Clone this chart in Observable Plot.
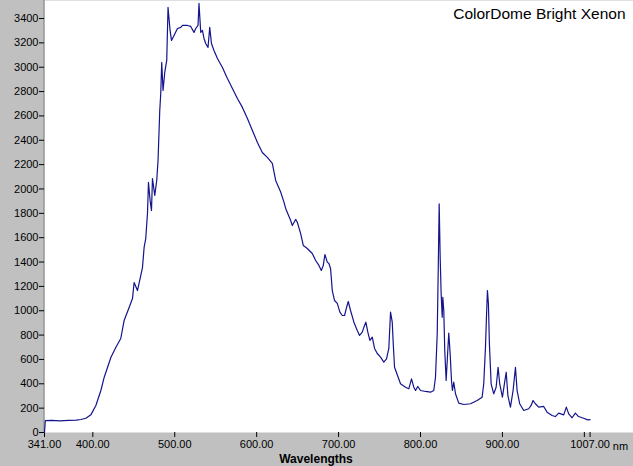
<!DOCTYPE html>
<html>
<head>
<meta charset="utf-8">
<script src="https://cdn.jsdelivr.net/npm/d3@7"></script>
<script src="https://cdn.jsdelivr.net/npm/@observablehq/plot@0.6"></script>
<style>
  html, body { margin: 0; padding: 0; background: #c0c0c0; }
  #chart svg { display: block; }
</style>
</head>
<body>
<div id="chart"></div>
<script>
const title = "ColorDome Bright Xenon";
const xLabel = "Wavelengths";
const xUnit = "nm";

const wavelengths = [
  341, 342, 350, 360, 370, 380, 385.4, 391.5, 397.6, 403.7, 409.8, 413.8, 417.9, 422, 428, 434.1,
  438.2, 444.3, 448.4, 450.4, 454.5, 460.6, 462.6, 464.6, 466.7, 467.9, 469.9, 471.6, 472.8, 475.6,
  478, 479.6, 481.7, 482.9, 484.1, 485.7, 487.8, 490.2, 491.8, 494.3, 496, 499.1, 503.3, 507.3,
  509.4, 515.5, 519.5, 523.5, 525.6, 528.4, 529.6, 531.7, 533.8, 535.7, 537.8, 540.6, 542.7, 544.8,
  547.9, 552.1, 558.2, 564.3, 570.4, 576.5, 582.6, 588.7, 594.8, 600.9, 606.9, 613, 619.1, 623.2,
  629.3, 633.3, 635.4, 641.5, 643.5, 647.6, 649.6, 653.7, 656.9, 661.8, 667.9, 672, 676, 678.9,
  681.3, 683.3, 686.2, 688.2, 690.2, 692.3, 695.1, 698.4, 701.6, 704.5, 707.3, 709.8, 711.8, 714.6,
  718.7, 722.8, 725.6, 728.9, 730.9, 733.3, 735.7, 738.2, 741.1, 743.9, 747.2, 751.2, 755.2, 758.5,
  761.3, 763.4, 765.5, 766.7, 768.3, 775.6, 781.7, 785.7, 789, 791.8, 793.9, 796.7, 800, 806.1,
  812.2, 816.2, 818.3, 820.4, 821.5, 822.8, 824, 825.2, 826.5, 827.2, 828.4, 829.6, 831.3, 833.3,
  834.5, 836.2, 837.8, 839, 840.6, 842.7, 846.7, 852.8, 861, 869.1, 875.2, 877.2, 879.3, 880.5,
  881.7, 882.9, 884.1, 886.2, 889.4, 892.3, 894.7, 896.7, 900, 902.4, 904.6, 906.7, 909.8, 913,
  915.9, 917.9, 921.1, 926, 932.1, 935, 937.4, 940.2, 944.3, 950.4, 954.5, 960.6, 964.6, 968.7,
  974.8, 978, 980.9, 985, 989, 993, 999.1, 1004, 1007
];
const intensity = [
  0, 98, 100, 96, 100, 102, 107, 117, 145, 222, 345, 452, 534, 616, 698, 772,
  920, 1027, 1100, 1232, 1166, 1355, 1520, 1593, 1799, 2054, 1906, 1824, 2086, 1947,
  2070, 2234, 2645, 2784, 3039, 2809, 2957, 3056, 3491, 3302, 3220, 3261, 3318, 3327,
  3343, 3343, 3335, 3286, 3318, 3343, 3524, 3286, 3302, 3236, 3195, 3162, 3327, 3195,
  3138, 3072, 2998, 2908, 2826, 2743, 2670, 2579, 2481, 2382, 2300, 2259, 2210, 2070,
  1975, 1892, 1840, 1741, 1700, 1750, 1727, 1634, 1536, 1511, 1470, 1413, 1372, 1331,
  1372, 1462, 1399, 1388, 1347, 1166, 1084, 1060, 988, 961, 961, 1029, 1076, 1002,
  906, 838, 797, 824, 865, 906, 824, 756, 783, 690, 649, 619, 578, 605,
  690, 988, 906, 731, 536, 400, 372, 359, 441, 372, 345, 378, 345, 337,
  331, 345, 454, 811, 1276, 1878, 1440, 1139, 947, 1111, 1002, 673, 427, 673,
  816, 646, 427, 345, 413, 318, 241, 230, 236, 263, 290, 400, 701, 947,
  1166, 1057, 729, 400, 318, 372, 536, 400, 290, 400, 495, 300, 208, 345,
  536, 345, 236, 181, 195, 222, 263, 236, 208, 214, 167, 140, 131, 159,
  145, 208, 153, 121, 159, 131, 117, 104, 105
];

const yTicks = [0, 200, 400, 600, 800, 1000, 1200, 1400, 1600, 1800, 2000, 2200, 2400, 2600, 2800, 3000, 3200, 3400];
const xTicks = [341, 400, 500, 600, 700, 800, 900, 1007];
const xMinorTicks = [1000];

const data = wavelengths.map((w, i) => ({w, v: intensity[i]}));

const font = "'Liberation Sans', Arial, sans-serif";

const chart = Plot.plot({
  width: 633,
  height: 466,
  marginLeft: 44,
  marginRight: 0,
  marginTop: 0,
  marginBottom: 34,
  style: {background: "#c0c0c0", fontFamily: font, fontSize: "11px", color: "#000"},
  x: {domain: [341, 1060]},
  y: {domain: [0, 3548]},
  marks: [
    Plot.frame({fill: "white", stroke: null}),
    Plot.ruleX([341], {stroke: "#808080", dx: -0.5}),
    Plot.axisY(yTicks, {tickSize: 5, tickPadding: 1, tickFormat: d => String(d), stroke: "#000", fill: "#000", label: null, fontSize: 11}),
    Plot.axisX(xTicks, {tickSize: 5, tickPadding: 3, tickFormat: d => d.toFixed(2), stroke: "#000", fill: "#000", label: null, fontSize: 11}),
    Plot.axisX(xMinorTicks, {tickSize: 5, tickFormat: () => "", stroke: "#000", label: null}),
    Plot.line(data, {x: "w", y: "v", stroke: "#14148c", strokeWidth: 1.2}),
    Plot.text([title], {frameAnchor: "top-right", dx: -8, dy: 14, lineAnchor: "middle", textAnchor: "end", fontSize: 15.5, fill: "#000"}),
    Plot.text([xLabel], {frameAnchor: "bottom", dx: -23, dy: 27, lineAnchor: "middle", fontSize: 12, fontWeight: "bold", fill: "#000"}),
    Plot.text([xUnit], {frameAnchor: "bottom-right", dx: -13, dy: 14, lineAnchor: "middle", textAnchor: "middle", fontSize: 11, fill: "#000"})
  ]
});

document.getElementById("chart").append(chart);
</script>
</body>
</html>
